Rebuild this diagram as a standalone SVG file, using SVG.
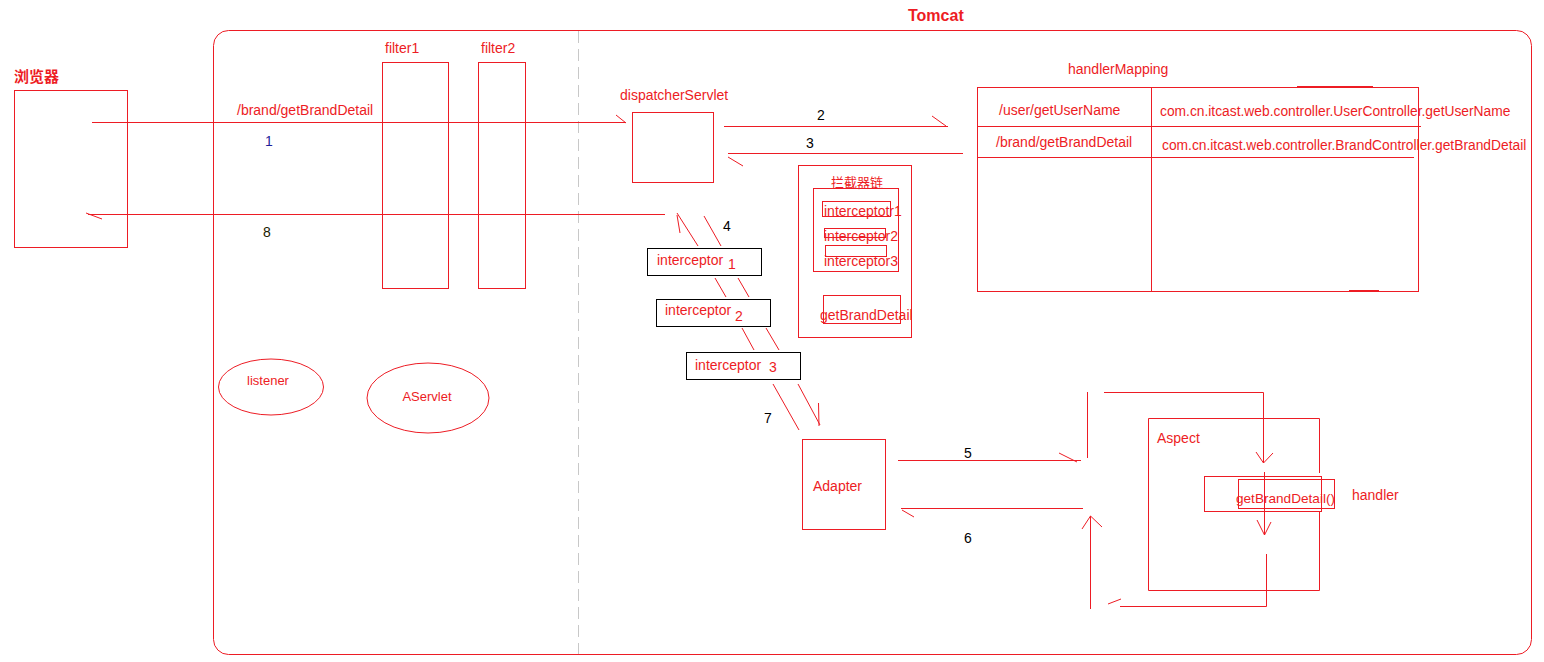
<svg xmlns="http://www.w3.org/2000/svg" width="1544" height="662" viewBox="0 0 1544 662">
<style>
.r{fill:none;stroke:#ed1c24;stroke-width:1}
.k{fill:none;stroke:#000;stroke-width:1}
.t{font-family:"Liberation Sans","Noto Sans CJK SC",sans-serif;font-size:14px;fill:#ed1c24}
.s{font-size:13px}
.m{font-size:13.6px}
.w{font-size:13.8px}
.n{font-family:"Liberation Sans",sans-serif;font-size:14px;fill:#000}
.b{font-weight:bold}
</style>
<rect width="1544" height="662" fill="#fff"/>
<g id="tomcat">
<rect class="r" x="213.5" y="30.5" width="1318" height="624" rx="15" ry="15"/>
<line x1="578.5" y1="31" x2="578.5" y2="654" stroke="#c8c8c8" stroke-width="1" stroke-dasharray="12,6"/>
<text class="t b" x="908" y="21" style="font-size:16px">Tomcat</text>
</g>
<g id="browser">
<text class="t b" x="14" y="82" style="font-size:15px">浏览器</text>
<rect class="r" x="14.5" y="90.5" width="113" height="157"/>
</g>
<g id="filter1">
<text class="t" x="385" y="53">filter1</text>
<rect class="r" x="382.5" y="62.5" width="66" height="226"/>
</g>
<g id="filter2">
<text class="t" x="481" y="53">filter2</text>
<rect class="r" x="478.5" y="62.5" width="47" height="226"/>
</g>
<g id="listener">
<ellipse class="r" cx="271" cy="387" rx="52.5" ry="28"/>
<text class="t s" x="268" y="385" text-anchor="middle">listener</text>
</g>
<g id="aservlet">
<ellipse class="r" cx="428" cy="398" rx="61" ry="35"/>
<text class="t s" x="427" y="401" text-anchor="middle">AServlet</text>
</g>
<g id="dispatcherServlet">
<text class="t" x="620" y="100">dispatcherServlet</text>
<rect class="r" x="632.5" y="112.5" width="81" height="70"/>
</g>
<g id="handlerMapping">
<text class="t" x="1068" y="74">handlerMapping</text>
<rect class="r" x="977.5" y="87.5" width="441" height="204"/>
<line class="r" x1="1151.5" y1="87" x2="1151.5" y2="292"/>
<line class="r" x1="977" y1="126.5" x2="1421" y2="126.5"/>
<line class="r" x1="977" y1="157.5" x2="1414" y2="157.5"/>
<line x1="1297" y1="87" x2="1373" y2="87" stroke="#ed1c24" stroke-width="2"/>
<line x1="1349" y1="291" x2="1379" y2="291" stroke="#ed1c24" stroke-width="2"/>
<text class="t" x="999" y="115">/user/getUserName</text>
<text class="t" x="996" y="147">/brand/getBrandDetail</text>
<text class="t w" x="1160" y="116">com.cn.itcast.web.controller.UserController.getUserName</text>
<text class="t w" x="1162" y="150">com.cn.itcast.web.controller.BrandController.getBrandDetail</text>
</g>
<g id="interceptorChain">
<rect class="r" x="798.5" y="165.5" width="113" height="172"/>
<text class="t s" x="831" y="187">拦截器链</text>
<rect class="r" x="813.5" y="188.5" width="85" height="83"/>
<rect class="r" x="822.5" y="201.5" width="68" height="15"/>
<text class="t" x="824" y="216">interceptotr1</text>
<rect class="r" x="824.5" y="228.5" width="61" height="9"/>
<text class="t" x="824" y="241">interceptor2</text>
<rect class="r" x="825.5" y="245.5" width="61" height="11"/>
<text class="t" x="824" y="266">interceptor3</text>
<rect class="r" x="823.5" y="295.5" width="77" height="28"/>
<text class="t" x="820" y="320">getBrandDetail</text>
</g>
<g id="interceptor1">
<rect class="k" x="647.5" y="248.5" width="114" height="27"/>
<text class="t" x="657" y="265">interceptor</text>
<text class="t" x="728" y="269">1</text>
</g>
<g id="interceptor2">
<rect class="k" x="656.5" y="299.5" width="114" height="27"/>
<text class="t" x="665" y="315">interceptor</text>
<text class="t" x="735" y="321">2</text>
</g>
<g id="interceptor3">
<rect class="k" x="686.5" y="352.5" width="114" height="27"/>
<text class="t" x="695" y="370">interceptor</text>
<text class="t" x="769" y="372">3</text>
</g>
<g id="adapter">
<rect class="r" x="802.5" y="439.5" width="83" height="90"/>
<text class="t" x="813" y="491">Adapter</text>
</g>
<g id="aspect">
<polyline class="r" points="1319.5,473 1319.5,418.5 1148.5,418.5 1148.5,590.5 1319.5,590.5 1319.5,512"/>
<text class="t" x="1157" y="443">Aspect</text>
</g>
<g id="handler">
<rect class="r" x="1204.5" y="476.5" width="117" height="35"/>
<rect class="r" x="1238.5" y="479.5" width="96" height="29"/>
<text class="t m" x="1236" y="503">getBrandDetail()</text>
<text class="t" x="1352" y="500">handler</text>
</g>
<g id="connectors">
<line class="r" x1="92" y1="122.5" x2="626" y2="122.5"/>
<line class="r" x1="616" y1="115" x2="626" y2="123"/>
<text class="t" x="237" y="115">/brand/getBrandDetail</text>
<text class="n" x="265" y="146" style="fill:#1f1f9a">1</text>
<line class="r" x1="88" y1="214.5" x2="665" y2="214.5"/>
<line class="r" x1="86" y1="213" x2="102" y2="219"/>
<text class="n" x="263" y="237" style="fill:#1a1a00">8</text>
<line class="r" x1="724" y1="126.5" x2="948" y2="126.5"/>
<line class="r" x1="932" y1="116" x2="946" y2="126"/>
<text class="n" x="817" y="120">2</text>
<line class="r" x1="728" y1="153.5" x2="963" y2="153.5"/>
<line class="r" x1="728" y1="157" x2="743" y2="166"/>
<text class="n" x="806" y="148">3</text>
<line class="r" x1="677" y1="213" x2="698" y2="246"/>
<line class="r" x1="677" y1="215" x2="680" y2="233"/>
<line class="r" x1="704" y1="216" x2="721" y2="246"/>
<text class="n" x="723" y="231">4</text>
<line class="r" x1="715" y1="278" x2="726" y2="297"/>
<line class="r" x1="738" y1="278" x2="749" y2="297"/>
<line class="r" x1="742" y1="328" x2="754" y2="350"/>
<line class="r" x1="766" y1="328" x2="779" y2="350"/>
<line class="r" x1="773" y1="384" x2="799" y2="430"/>
<line class="r" x1="798" y1="384" x2="820" y2="425"/>
<line class="r" x1="818.5" y1="403" x2="819" y2="426"/>
<text class="n" x="764" y="423">7</text>
<line class="r" x1="898" y1="460.5" x2="1081" y2="460.5"/>
<line class="r" x1="1059" y1="453" x2="1077" y2="462"/>
<text class="n" x="964" y="458">5</text>
<line class="r" x1="901" y1="508.5" x2="1083" y2="508.5"/>
<line class="r" x1="902" y1="510" x2="914" y2="517"/>
<text class="n" x="964" y="543">6</text>
<line class="r" x1="1087.5" y1="392" x2="1087.5" y2="458"/>
<polyline class="r" points="1104,392.5 1263.5,392.5 1263.5,463"/>
<polyline class="r" points="1256,452 1263.5,463 1273,453"/>
<line class="r" x1="1264.5" y1="472" x2="1264.5" y2="535"/>
<polyline class="r" points="1257,520 1264.5,535 1271,522"/>
<polyline class="r" points="1266.5,554 1266.5,606.5 1120,606.5"/>
<line class="r" x1="1108" y1="604" x2="1121" y2="599"/>
<line class="r" x1="1090.5" y1="516" x2="1090.5" y2="609"/>
<polyline class="r" points="1082,529 1090.5,516 1102,527"/>
</g>
</svg>
